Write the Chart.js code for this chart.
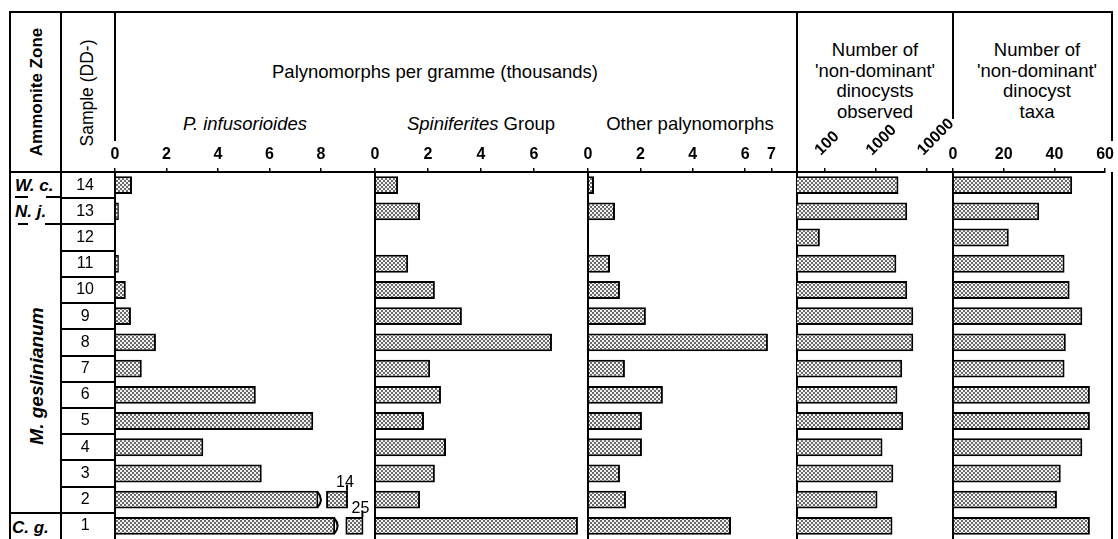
<!DOCTYPE html>
<html>
<head>
<meta charset="utf-8">
<script src="https://cdn.jsdelivr.net/npm/chart.js@4.4.0/dist/chart.umd.min.js"></script>
<style>
  body { margin: 0; background: #fff; }
  #wrap { position: relative; width: 1118px; height: 539px; overflow: hidden; background: #fff;
          font-family: "Liberation Sans", Arial, Helvetica, sans-serif; color: #000; }
  .ln { position: absolute; background: #000; }
  .t { position: absolute; white-space: nowrap; font-size: 18.5px; line-height: 1; transform: translate(-50%, -50%); }
  .blk { position: absolute; font-size: 18.5px; line-height: 20.7px; text-align: center; transform: translateX(-50%); white-space: nowrap; }
  .zone { position: absolute; font-weight: bold; font-style: italic; font-size: 17px; line-height: 1; transform: translateY(-50%); white-space: nowrap; }
  canvas { position: absolute; top: 100px; }
</style>
</head>
<body>
<div id="wrap">
  <!-- frame -->
  <div class="ln" style="left:10px;top:11px;width:1103px;height:2px"></div>
  <div class="ln" style="left:9px;top:11px;width:2px;height:528px"></div>
  <div class="ln" style="left:60px;top:11px;width:2px;height:528px"></div>
  <div class="ln" style="left:114px;top:11px;width:2px;height:130px"></div>
  <div class="ln" style="left:796px;top:11px;width:2px;height:161px"></div>
  <div class="ln" style="left:952px;top:11px;width:2px;height:108px"></div>
  <div class="ln" style="left:1111px;top:11px;width:2px;height:130px"></div>
  <div class="ln" style="left:1111px;top:172px;width:2px;height:367px"></div>
  <div class="ln" style="left:10px;top:171px;width:105px;height:2px"></div>
  <!-- zone boundaries -->
  <div class="ln" style="left:15px;top:196px;width:13px;height:2px"></div>
  <div class="ln" style="left:46px;top:196px;width:16px;height:2px"></div>
  <div class="ln" style="left:18px;top:223px;width:10px;height:2px"></div>
  <div class="ln" style="left:45px;top:223px;width:17px;height:2px"></div>
  <div class="ln" style="left:10px;top:512px;width:52px;height:2px"></div>

  <!-- headers -->
  <div class="t" style="left:36px;top:92px;font-weight:bold;font-size:17px;transform:translate(-50%,-50%) rotate(-90deg)">Ammonite Zone</div>
  <div class="t" style="left:88px;top:93px;font-size:17.5px;transform:translate(-50%,-50%) rotate(-90deg)">Sample (DD-)</div>
  <div class="t" style="left:435px;top:72px">Palynomorphs per gramme (thousands)</div>
  <div class="t" style="left:245px;top:124px;font-style:italic">P. infusorioides</div>
  <div class="t" style="left:481px;top:124px"><i>Spiniferites</i> Group</div>
  <div class="t" style="left:690px;top:124px">Other palynomorphs</div>
  <div class="blk" style="left:875px;top:40px">Number of<br>'non-dominant'<br>dinocysts<br>observed</div>
  <div class="blk" style="left:1037px;top:40px">Number of<br>'non-dominant'<br>dinocyst<br>taxa</div>

  <!-- zone names -->
  <div class="zone" style="left:15px;top:185px">W. c.</div>
  <div class="zone" style="left:15px;top:211px">N. j.</div>
  <div class="zone" style="left:36px;top:376px;font-size:19px;transform:translate(-50%,-50%) rotate(-90deg)">M. geslinianum</div>
  <div class="zone" style="left:12px;top:527px">C. g.</div>

  <canvas id="cInf" width="335" height="439" style="left:60px"></canvas>
  <canvas id="cSpin" width="253" height="439" style="left:355px"></canvas>
  <canvas id="cOther" width="249" height="439" style="left:568px"></canvas>
  <canvas id="cObs" width="196" height="439" style="left:777px"></canvas>
  <canvas id="cTaxa" width="185" height="439" style="left:933px"></canvas>
</div>

<script>
// samples, top of the column first
const samples = ['14', '13', '12', '11', '10', '9', '8', '7', '6', '5', '4', '3', '2', '1'];

// palynomorphs per gramme (thousands)
const pInfValues = [0.66, 0.15, 0, 0.15, 0.42, 0.62, 1.59, 1.04, 5.47, 7.7, 3.43, 5.7, 14, 25];
const spinValues = [0.87, 1.7, 0, 1.25, 2.26, 3.28, 6.68, 2.08, 2.49, 1.85, 2.68, 2.26, 1.7, 7.66];
const otherValues = [0.23, 1.03, 0, 0.84, 1.22, 2.21, 6.87, 1.41, 2.86, 2.06, 2.06, 1.22, 1.45, 5.46];

// non-dominant dinocysts
const observedValues = [2750, 4070, 80, 2500, 4070, 5350, 5350, 3250, 2620, 3400, 1340, 2180, 1070, 2100];
const taxaValues = [47, 34, 22, 44, 46, 51, 44.5, 44, 54, 54, 51, 42.5, 41, 54];

// off-scale values are drawn as a cut bar plus a short stub (axis units)
const pInfBreaks = {
  '2': { cut: 7.9, stub: [8.2, 9.05] },
  '1': { cut: 8.55, stub: [8.95, 9.65] }
};

const pInfTicks = [0, 2, 4, 6, 8];
const spinTicks = [0, 2, 4, 6];
const otherTicks = [0, 2, 4, 6, 7];
const observedTicks = [100, 1000, 10000];
const taxaTicks = [0, 20, 40, 60];

const FONT = '"Liberation Sans", Arial, Helvetica, sans-serif';

function stipple(ctx) {
  const c = document.createElement('canvas');
  c.width = 4; c.height = 4;
  const g = c.getContext('2d');
  g.fillStyle = '#f2f2f2'; g.fillRect(0, 0, 4, 4);
  g.fillStyle = '#6a6a6a'; g.fillRect(0, 0, 2, 2); g.fillRect(2, 2, 2, 2);
  return ctx.createPattern(c, 'repeat');
}

function barSet(ctx, data) {
  return {
    data: data,
    grouped: false,
    backgroundColor: stipple(ctx),
    borderColor: '#000',
    borderWidth: 2,
    borderSkipped: 'start',
    barPercentage: 0.68,
    categoryPercentage: 1
  };
}

function xAxis(ticks, type, min, max, showLabels) {
  return {
    type: type, position: 'top', min: min, max: max, bounds: 'data',
    afterFit: s => { s.height = 72; },
    afterBuildTicks: s => { s.ticks = ticks.map(v => ({ value: v })); },
    grid: { display: true, drawOnChartArea: false, drawTicks: true, tickLength: 4, color: '#000', lineWidth: 1.5 },
    border: { display: true, color: '#000', width: 2 },
    ticks: {
      display: showLabels, autoSkip: false, minRotation: 0, maxRotation: 0, padding: 4,
      color: '#000', font: { family: FONT, size: 16, weight: 'bold' },
      callback: v => String(v)
    }
  };
}

function yAxis(show) {
  return {
    type: 'category', position: 'left',
    afterFit: s => { s.width = show ? 53 : 0; s.paddingTop = 0; s.paddingBottom = 0; },
    grid: { display: false, drawTicks: false, tickLength: 0 },
    border: { display: true, color: '#000', width: 2 },
    ticks: { display: show, crossAlign: 'center', padding: 21, color: '#000', font: { family: FONT, size: 16 } }
  };
}

function baseOptions(x, show, padL, padR) {
  return {
    indexAxis: 'y',
    responsive: false,
    animation: false,
    events: [],
    layout: { autoPadding: false, padding: { left: padL, right: padR, top: 0, bottom: 0 } },
    plugins: { legend: { display: false }, tooltip: { enabled: false } },
    scales: { x: x, y: yAxis(show) }
  };
}

// boxes round the sample numbers
const sampleRows = {
  id: 'sampleRows',
  afterDraw(chart) {
    const y = chart.scales.y, ctx = chart.ctx;
    ctx.save();
    ctx.strokeStyle = '#000'; ctx.lineWidth = 2;
    for (let i = 0; i < samples.length - 1; i++) {
      const yy = Math.round((y.getPixelForTick(i) + y.getPixelForTick(i + 1)) / 2);
      ctx.beginPath(); ctx.moveTo(y.left, yy); ctx.lineTo(y.right - 1, yy); ctx.stroke();
    }
    ctx.restore();
  }
};

// cut marks and true values of the off-scale bars
const breakMarks = {
  id: 'breakMarks',
  afterDatasetsDraw(chart) {
    const ctx = chart.ctx, x = chart.scales.x;
    const meta = chart.getDatasetMeta(1);
    ctx.save();
    samples.forEach((s, i) => {
      const b = pInfBreaks[s];
      if (!b) return;
      const bar = meta.data[i];
      const top = bar.y - bar.height / 2, bot = bar.y + bar.height / 2;
      const cut = x.getPixelForValue(b.cut), end = x.getPixelForValue(b.stub[1]);
      ctx.strokeStyle = '#000'; ctx.lineWidth = 2;
      ctx.beginPath(); ctx.moveTo(cut - 1, top + 1); ctx.quadraticCurveTo(cut + 6, bar.y, cut - 1, bot - 1); ctx.stroke();
      ctx.beginPath(); ctx.moveTo(end - 1, top); ctx.lineTo(end - 1, top - 6); ctx.stroke();
      ctx.fillStyle = '#000'; ctx.font = '16px ' + FONT;
      ctx.textAlign = 'center'; ctx.textBaseline = 'alphabetic';
      ctx.fillText(String(pInfValues[i]), end - 3, top - 4);
    });
    ctx.restore();
  }
};

// slanted labels of the log axis, reading upwards from the tick
const logLabels = {
  id: 'logLabels',
  afterDraw(chart) {
    const x = chart.scales.x, ctx = chart.ctx;
    ctx.save();
    ctx.fillStyle = '#000';
    ctx.font = 'bold 16px ' + FONT;
    ctx.textAlign = 'left'; ctx.textBaseline = 'alphabetic';
    observedTicks.forEach(v => {
      ctx.save();
      ctx.translate(x.getPixelForValue(v) - 4, x.bottom - 16);
      ctx.rotate(-Math.PI / 4);
      ctx.fillText(String(v), 0, 0);
      ctx.restore();
    });
    ctx.restore();
  }
};

// P. infusorioides (with the sample column as its category axis)
const infCtx = document.getElementById('cInf').getContext('2d');
const infMain = samples.map((s, i) => pInfBreaks[s] ? pInfBreaks[s].cut : pInfValues[i]);
const infStub = samples.map(s => pInfBreaks[s] ? pInfBreaks[s].stub : null);
const stubSet = barSet(infCtx, infStub);
stubSet.borderSkipped = false;
new Chart(infCtx, {
  type: 'bar',
  data: { labels: samples, datasets: [barSet(infCtx, infMain), stubSet] },
  options: baseOptions(xAxis(pInfTicks, 'linear', 0, 10.1, true), true, 2, 20),
  plugins: [sampleRows, breakMarks]
});

const spinCtx = document.getElementById('cSpin').getContext('2d');
new Chart(spinCtx, {
  type: 'bar',
  data: { labels: samples, datasets: [barSet(spinCtx, spinValues)] },
  options: baseOptions(xAxis(spinTicks, 'linear', 0, 8.04, true), false, 20, 20)
});

const otherCtx = document.getElementById('cOther').getContext('2d');
new Chart(otherCtx, {
  type: 'bar',
  data: { labels: samples, datasets: [barSet(otherCtx, otherValues)] },
  options: baseOptions(xAxis(otherTicks, 'linear', 0, 7.98, true), false, 20, 20)
});

const obsCtx = document.getElementById('cObs').getContext('2d');
new Chart(obsCtx, {
  type: 'bar',
  data: { labels: samples, datasets: [barSet(obsCtx, observedValues)] },
  options: baseOptions(xAxis(observedTicks, 'logarithmic', 28.6, 32000, false), false, 20, 20),
  plugins: [logLabels]
});

const taxaCtx = document.getElementById('cTaxa').getContext('2d');
new Chart(taxaCtx, {
  type: 'bar',
  data: { labels: samples, datasets: [barSet(taxaCtx, taxaValues)] },
  options: baseOptions(xAxis(taxaTicks, 'linear', 0, 60, true), false, 20, 6)
});
</script>
</body>
</html>
